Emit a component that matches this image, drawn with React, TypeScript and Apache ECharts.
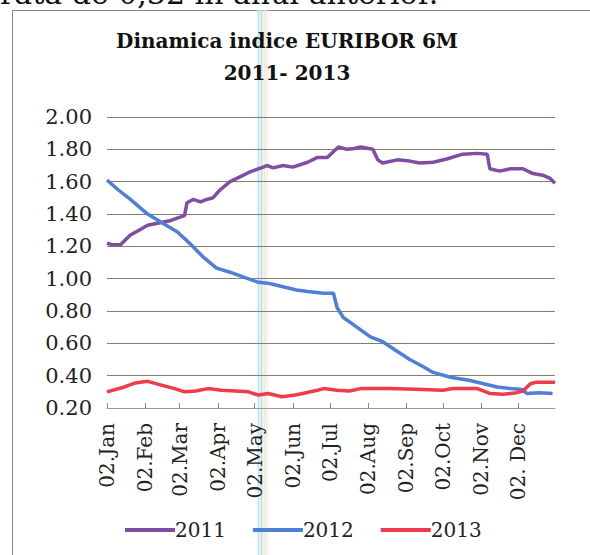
import React, { useEffect, useRef } from "react";
import * as echarts from "echarts";

const tickDays = [1, 32, 60, 91, 121, 152, 182, 213, 244, 274, 305, 335];
const tickLabels = ["02.Jan", "02.Feb", "02.Mar", "02.Apr", "02.May", "02.Jun", "02.Jul", "02.Aug", "02.Sep", "02.Oct", "02.Nov", "02. Dec"];

const seriesNames = ["2011", "2012", "2013"];

const data2011: [number, number][] = [
  [1, 1.22], [5, 1.21], [12, 1.21], [20, 1.27], [27, 1.30], [34, 1.33], [40, 1.34], [47, 1.35], [53, 1.36], [58, 1.375],
  [64, 1.39], [66, 1.47], [71, 1.49], [77, 1.475], [82, 1.49], [87, 1.50], [93, 1.55], [101, 1.60], [109, 1.63],
  [117, 1.66], [128, 1.69], [131, 1.70], [136, 1.685], [144, 1.70], [152, 1.69], [164, 1.72], [172, 1.75],
  [180, 1.75], [189, 1.815], [196, 1.80], [202, 1.805], [207, 1.815], [217, 1.80], [221, 1.735], [225, 1.715],
  [237, 1.735], [245, 1.73], [255, 1.715], [266, 1.72], [277, 1.74], [290, 1.77], [302, 1.775], [310, 1.77],
  [312, 1.68], [320, 1.665], [329, 1.68], [339, 1.68], [347, 1.65], [355, 1.64], [361, 1.62], [365, 1.59],
];

const data2012: [number, number][] = [
  [1, 1.61], [10, 1.55], [20, 1.49], [33, 1.405], [46, 1.345], [58, 1.29], [68, 1.22], [79, 1.135], [90, 1.065],
  [101, 1.04], [112, 1.01], [123, 0.98], [133, 0.97], [144, 0.95], [155, 0.93], [164, 0.92], [177, 0.91],
  [185, 0.91], [188, 0.82], [193, 0.76], [204, 0.70], [215, 0.64], [225, 0.61], [237, 0.55], [247, 0.50],
  [258, 0.455], [266, 0.42], [280, 0.39], [296, 0.37], [307, 0.35], [318, 0.33], [329, 0.32], [338, 0.315],
  [342, 0.29], [352, 0.295], [363, 0.29],
];

const data2013: [number, number][] = [
  [1, 0.30], [13, 0.325], [24, 0.355], [34, 0.365], [46, 0.34], [56, 0.32], [64, 0.30], [73, 0.305], [83, 0.32],
  [94, 0.31], [105, 0.305], [116, 0.30], [124, 0.28], [132, 0.29], [143, 0.27], [154, 0.28], [160, 0.29],
  [172, 0.31], [177, 0.32], [188, 0.31], [198, 0.305], [207, 0.32], [231, 0.32], [258, 0.315], [274, 0.31],
  [282, 0.32], [302, 0.32], [312, 0.29], [323, 0.285], [334, 0.295], [339, 0.305], [345, 0.35], [350, 0.36],
  [365, 0.36],
];

const colors = ["#7f4ea3", "#4f7fd6", "#ef3b4b"];

export default function App() {
  const ref = useRef<HTMLDivElement>(null);
  useEffect(() => {
    if (!ref.current) return;
    const chart = echarts.init(ref.current, null, { renderer: "svg" });
    const serif = "DejaVu Serif";
    chart.setOption({
      animation: false,
      backgroundColor: "#ffffff",
      color: colors,
      grid: { left: 107, right: 35, top: 117, bottom: 147, containLabel: false },
      xAxis: {
        type: "value",
        min: 1,
        max: 365,
        splitLine: { show: false },
        axisLine: { show: true, lineStyle: { color: "#9a9a9a", width: 1 } },
        axisTick: { show: true, inside: true, length: 5, customValues: tickDays, lineStyle: { color: "#888" } },
        axisLabel: {
          customValues: tickDays,
          rotate: 90,
          margin: 15,
          fontFamily: serif,
          fontSize: 20,
          color: "#222",
          formatter: (v: number) => tickLabels[tickDays.indexOf(Math.round(v))] ?? "",
        },
      },
      yAxis: {
        type: "value",
        min: 0.2,
        max: 2.0,
        interval: 0.2,
        axisLine: { show: false },
        axisTick: { show: false },
        splitLine: { show: true, lineStyle: { color: "#857f68", width: 1 } },
        axisLabel: {
          margin: 15,
          fontFamily: serif,
          fontSize: 21,
          color: "#222",
          formatter: (v: number) => v.toFixed(2),
        },
      },
      legend: {
        left: 120,
        top: 515,
        itemWidth: 50,
        itemHeight: 4,
        itemGap: 27,
        icon: "rect",
        textStyle: { fontFamily: serif, fontSize: 20, color: "#222", padding: [0, 0, 0, -5] },
        data: seriesNames,
      },
      series: [
        { name: seriesNames[0], type: "line", data: data2011, showSymbol: false, lineStyle: { width: 3.5 } },
        { name: seriesNames[1], type: "line", data: data2012, showSymbol: false, lineStyle: { width: 3.5 } },
        { name: seriesNames[2], type: "line", data: data2013, showSymbol: false, lineStyle: { width: 3.5 } },
      ],
      graphic: [
        { type: "line", shape: { x1: 12.5, y1: 10, x2: 12.5, y2: 555 }, style: { stroke: "#8a8a8a", lineWidth: 1 } },
        { type: "line", shape: { x1: 12, y1: 10.5, x2: 590, y2: 10.5 }, style: { stroke: "#8a8a8a", lineWidth: 1 } },
        { type: "line", shape: { x1: 258.5, y1: 10, x2: 258.5, y2: 555 }, style: { stroke: "#bfe9f0", lineWidth: 2 } },
        { type: "line", shape: { x1: 261.5, y1: 10, x2: 261.5, y2: 555 }, style: { stroke: "#c7d9f7", lineWidth: 2 } },
        { type: "line", shape: { x1: 264.5, y1: 10, x2: 264.5, y2: 555 }, style: { stroke: "#f3ecc0", lineWidth: 2 } },
        { type: "line", shape: { x1: 267, y1: 10, x2: 267, y2: 555 }, style: { stroke: "#f3d8ef", lineWidth: 1 } },
        {
          type: "text",
          x: 0,
          y: 8,
          style: { text: "rata de 0,32 în anul anterior.", fontFamily: serif, fontSize: 30, fill: "#111", textAlign: "left", textVerticalAlign: "bottom" },
        },
        {
          type: "text",
          x: 287,
          y: 25,
          style: {
            text: "Dinamica indice EURIBOR 6M\n2011- 2013",
            fontFamily: serif,
            fontWeight: "bold",
            fontSize: 20,
            lineHeight: 32,
            fill: "#111",
            textAlign: "center",
            textVerticalAlign: "top",
          },
        },
      ],
    });
    return () => chart.dispose();
  }, []);
  return <div ref={ref} style={{ position: "fixed", left: 0, top: 0, width: 590, height: 555 }} />;
}
